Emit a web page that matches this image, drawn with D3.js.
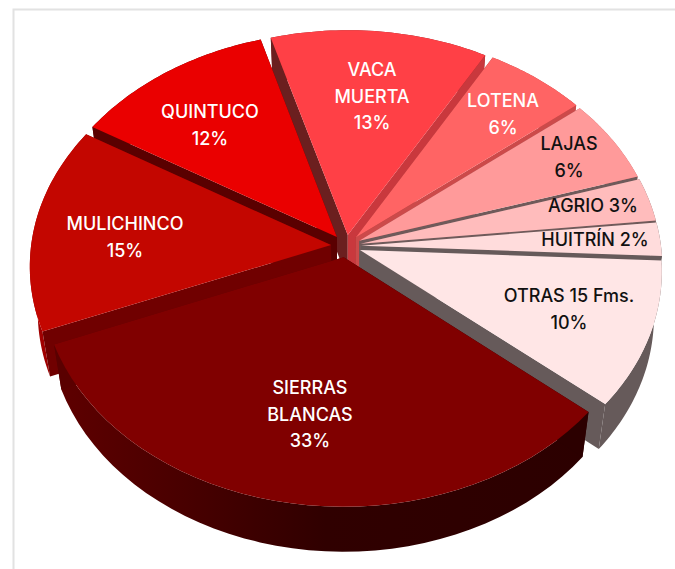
<!DOCTYPE html>
<html><head><meta charset="utf-8">
<script src="https://cdn.jsdelivr.net/npm/d3@7"></script>
<style>html,body{margin:0;padding:0;background:#fff}svg{display:block}</style>
</head><body>
<svg id="c" width="675" height="569"></svg>
<script>
const categories = ["SIERRAS BLANCAS","MULICHINCO","QUINTUCO","VACA MUERTA","LOTENA","LAJAS","AGRIO","HUITRÍN","OTRAS 15 Fms."];
const shares = [32.9,14.7,11.9,12.8,6.0,6.0,3.1,2.4,10.4];
const topColors = ["#800000","#c30600","#ea0000","#ff4046","#ff6464","#ff9a9a","#ffbcbc","#ffdcdc","#ffe6e6"];
const sideColors = ["#4a0000","#a00000","#5a0000","#8a2020","#c03c3c","#c06060","#806868","#6a5c5c","#665a5a"];
const startWallColors = ["#2c0000","#700000","#5a0000","#6b1f1f","#a03030","#a05050","#806868","#6a5c5c","#665a5a"];
const endWallColors = ["#5a0000","#700000","#5a0000","#c9383d","#cc4a4a","#6f5a5a","#6f5a5a","#665a5a","#665a5a"];
const labelLines = [["SIERRAS","BLANCAS","33%"],["MULICHINCO","15%"],["QUINTUCO","12%"],["VACA","MUERTA","13%"],["LOTENA","6%"],["LAJAS","6%"],["AGRIO 3%"],["HUITRÍN 2%"],["OTRAS 15 Fms.","10%"]];
const labelAnchors = [[310,388],[125,224],[210,112],[372,70],[503,101],[569,144],[593,206],[595,240],[569,296]];
const textFill = ["#fff","#fff","#fff","#fff","#fff","#111","#111","#111","#111"];

const svg = d3.select("#c");
const cx=346, cy=246, Rx=300, Ry=225, persp=0.09, explode=0.05, depth=45, bottomScale=0.975, startDeg=130;

// frame
svg.append("path").attr("d","M13.5,569V9.5H675").attr("fill","none").attr("stroke","#e2e2e2").attr("stroke-width",2);

const pie = d3.pie().value(d=>d).sort(null)
  .startAngle(startDeg*Math.PI/180).endAngle((startDeg+360)*Math.PI/180);
const arcs = pie(shares);

function project(a,r,mid,lower){
  const wx = r*Math.sin(a)+explode*Math.sin(mid);
  const wy = -r*Math.cos(a)-explode*Math.cos(mid);
  const s = 1/(1-persp*wy);
  let X = Rx*wx*s, Y = Ry*wy*s;
  if(lower){ X*=bottomScale; Y+=depth; }
  return [cx+X, cy+Y];
}
const line = d3.line();
const defs = svg.append("defs");
const grad = defs.append("linearGradient").attr("id","sideG").attr("gradientUnits","userSpaceOnUse")
  .attr("x1",60).attr("x2",590).attr("y1",0).attr("y2",0);
grad.append("stop").attr("offset",0).attr("stop-color","#5e0000");
grad.append("stop").attr("offset",0.5).attr("stop-color","#300000");
grad.append("stop").attr("offset",1).attr("stop-color","#2c0000");

const order = d3.range(arcs.length).sort((i,j)=>{
  const k = d=>{const m=((arcs[d].startAngle+arcs[d].endAngle)/2)%(2*Math.PI);return Math.cos(m);};
  return k(j)-k(i);
});
const g = svg.append("g");
order.forEach(i=>{
  const d=arcs[i], mid=(d.startAngle+d.endAngle)/2;
  const angles=d3.range(0,41).map(t=>d.startAngle+(d.endAngle-d.startAngle)*t/40);
  const outerTop=angles.map(a=>project(a,1,mid,false));
  const outerBot=angles.map(a=>project(a,1,mid,true));
  const apexT=project(0,0,mid,false), apexB=project(0,0,mid,true);
  g.append("path").attr("d",line(outerTop.concat(outerBot.slice().reverse()))+"Z")
    .attr("fill",i===0?"url(#sideG)":sideColors[i]);
  g.append("path").attr("d",line([apexT,outerTop[0],outerBot[0],apexB])+"Z").attr("fill",startWallColors[i]);
  g.append("path").attr("d",line([apexT,outerTop[40],outerBot[40],apexB])+"Z").attr("fill",endWallColors[i]);
  g.append("path").attr("d",line([apexT].concat(outerTop))+"Z").attr("fill",topColors[i]);
});
labelLines.forEach((ls,i)=>{
  const t=svg.append("text").attr("text-anchor","middle")
    .attr("font-family","Inter, sans-serif").attr("font-size",18).attr("font-weight",500)
    .attr("fill",textFill[i]);
  ls.forEach((s,k)=>{
    t.append("tspan").attr("x",labelAnchors[i][0]).attr("y",labelAnchors[i][1]+6+k*26.5).text(s);
  });
});
</script>
</body></html>
